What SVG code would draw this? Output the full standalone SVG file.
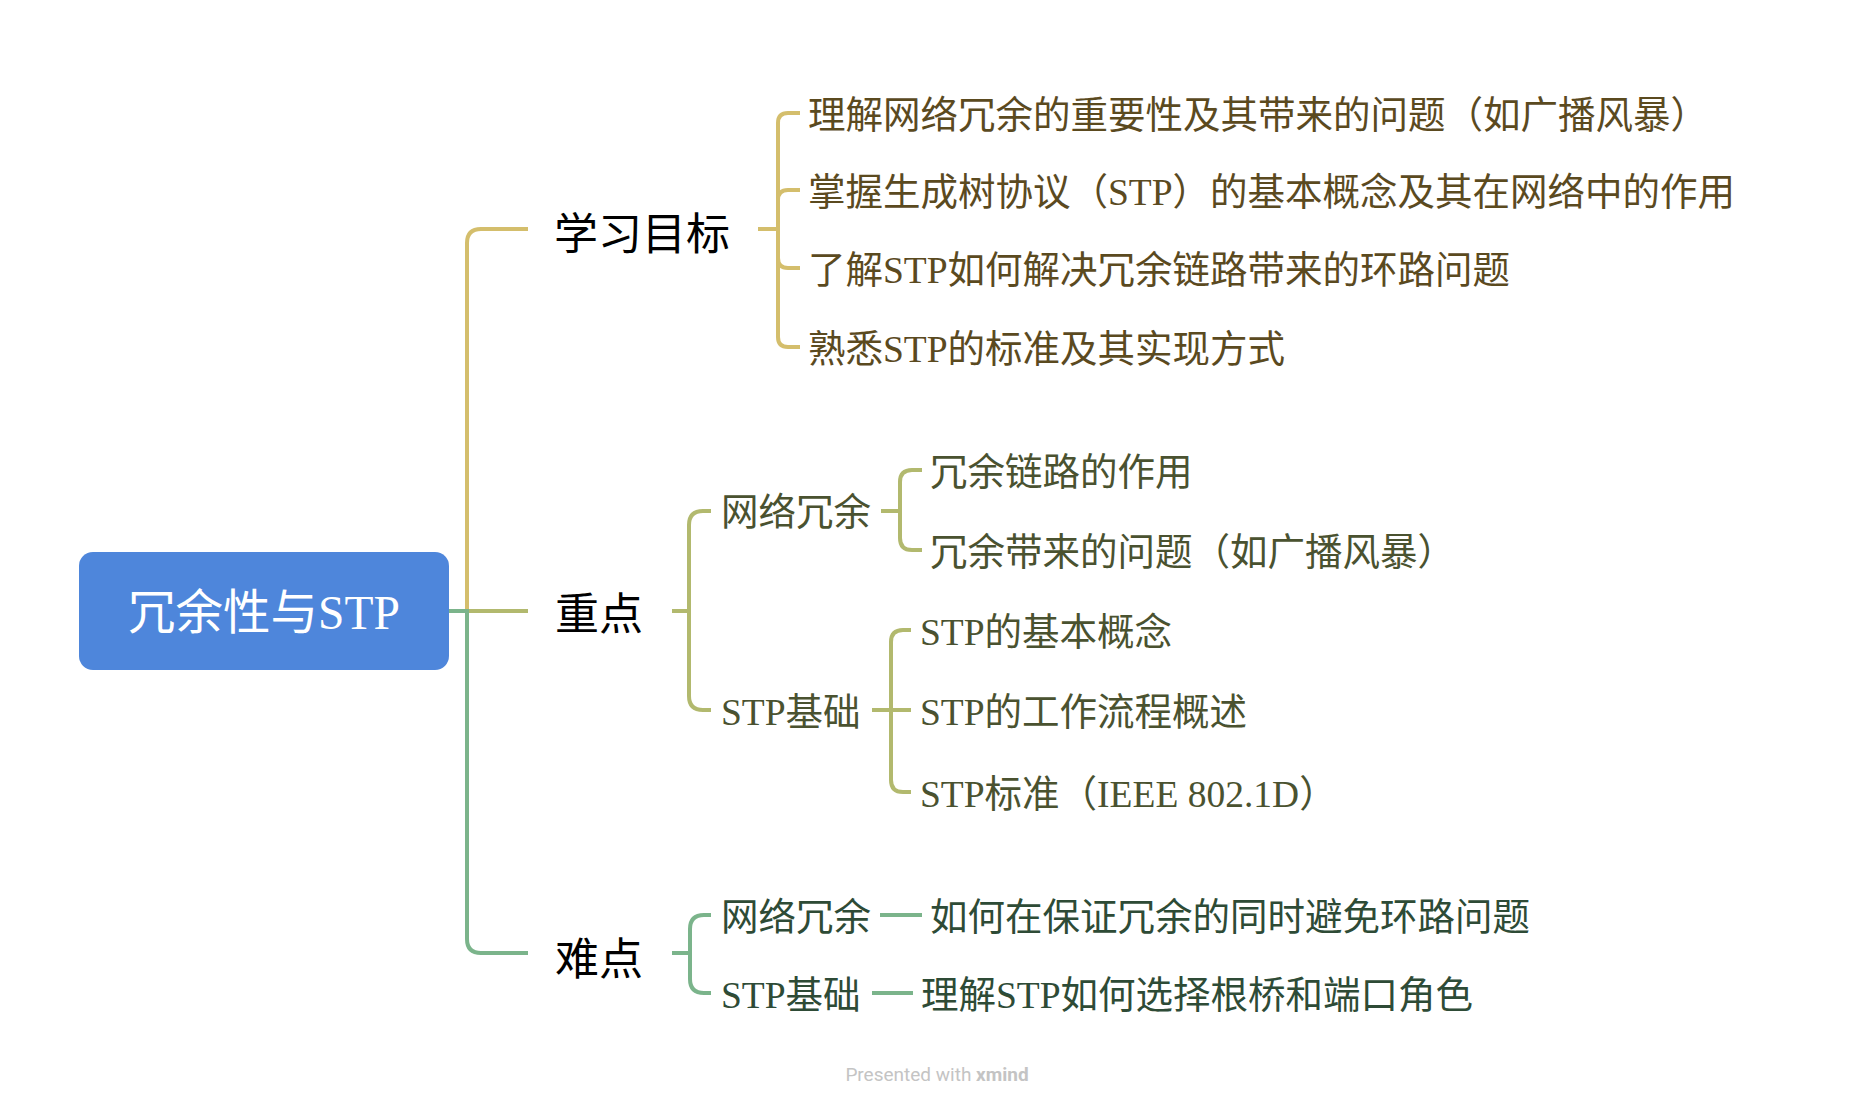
<svg xmlns="http://www.w3.org/2000/svg" width="1875" height="1106" viewBox="0 0 1875 1106">
<style>
.l2{font-family:"Noto Sans CJK SC","Noto Sans",sans-serif;font-size:44px;fill:#000}
.l3{font-family:"Liberation Serif","Noto Sans CJK SC",serif;font-size:37.5px}
.y{fill:#5B4A1F}.o{fill:#4A5230}.g{fill:#2E4B36}
.c{fill:none;stroke-width:4;stroke-linecap:butt}
.cy{stroke:#D4BE6C}.co{stroke:#B2B96E}.cg{stroke:#7BB48B}
.root{font-family:"Liberation Serif","Noto Sans CJK SC",serif;font-size:47.5px;fill:#fff}
.foot{font-family:Roboto,"Liberation Sans",sans-serif;font-size:19px;fill:#C4C4C4}
</style>
<rect width="1875" height="1106" fill="#fff"/>
<g id="connectors">
<path class="c cy" d="M449,611 H467 V243 Q467,229 481,229 H528"/>
<path class="c co" d="M449,611 H528"/>
<path class="c cg" d="M449,611 H467 V939 Q467,953 481,953 H528"/>
<path class="c cy" d="M758,229 H778 V123 Q778,113 788,113 H800"/>
<path class="c cy" d="M758,229 H778 V200 Q778,190 788,190 H800"/>
<path class="c cy" d="M758,229 H778 V258 Q778,268 788,268 H800"/>
<path class="c cy" d="M758,229 H778 V337 Q778,347 788,347 H800"/>
<path class="c co" d="M672,611 H689 V525 Q689,511 703,511 H711"/>
<path class="c co" d="M672,611 H689 V696 Q689,710 703,710 H711"/>
<path class="c co" d="M881,511 H900 V482 Q900,470 912,470 H922"/>
<path class="c co" d="M881,511 H900 V538 Q900,550 912,550 H922"/>
<path class="c co" d="M872,710 H891 V642 Q891,630 903,630 H911"/>
<path class="c co" d="M872,710 H911"/>
<path class="c co" d="M872,710 H891 V780 Q891,792 903,792 H911"/>
<path class="c cg" d="M672,953 H690 V929 Q690,915 704,915 H711"/>
<path class="c cg" d="M672,953 H690 V979 Q690,993 704,993 H711"/>
<path class="c cg" d="M880,915 H922"/>
<path class="c cg" d="M872,993 H913"/>
</g>
<g id="root">
<rect x="79" y="552" width="370" height="118" rx="14" fill="#4E86DB"/>
<text class="root" x="264" y="629" text-anchor="middle">冗余性与STP</text>
</g>
<g id="goal"><text class="l2" x="554" y="250">学习目标</text></g>
<g id="goal-1"><text class="l3 y" x="808" y="128">理解网络冗余的重要性及其带来的问题（如广播风暴）</text></g>
<g id="goal-2"><text class="l3 y" x="808" y="205">掌握生成树协议（STP）的基本概念及其在网络中的作用</text></g>
<g id="goal-3"><text class="l3 y" x="808" y="283">了解STP如何解决冗余链路带来的环路问题</text></g>
<g id="goal-4"><text class="l3 y" x="808" y="362">熟悉STP的标准及其实现方式</text></g>
<g id="key"><text class="l2" x="555" y="630">重点</text></g>
<g id="key-net"><text class="l3 o" x="721" y="525">网络冗余</text></g>
<g id="key-net-1"><text class="l3 o" x="930" y="485">冗余链路的作用</text></g>
<g id="key-net-2"><text class="l3 o" x="930" y="565">冗余带来的问题（如广播风暴）</text></g>
<g id="key-stp"><text class="l3 o" x="721" y="725">STP基础</text></g>
<g id="key-stp-1"><text class="l3 o" x="920" y="645">STP的基本概念</text></g>
<g id="key-stp-2"><text class="l3 o" x="920" y="725">STP的工作流程概述</text></g>
<g id="key-stp-3"><text class="l3 o" x="920" y="807">STP标准（IEEE 802.1D）</text></g>
<g id="hard"><text class="l2" x="555" y="975">难点</text></g>
<g id="hard-net"><text class="l3 g" x="721" y="930">网络冗余</text></g>
<g id="hard-net-1"><text class="l3 g" x="930" y="930">如何在保证冗余的同时避免环路问题</text></g>
<g id="hard-stp"><text class="l3 g" x="721" y="1008">STP基础</text></g>
<g id="hard-stp-1"><text class="l3 g" x="921" y="1008">理解STP如何选择根桥和端口角色</text></g>
<text class="foot" x="937" y="1081" text-anchor="middle">Presented with <tspan font-weight="bold">xmind</tspan></text>
</svg>
